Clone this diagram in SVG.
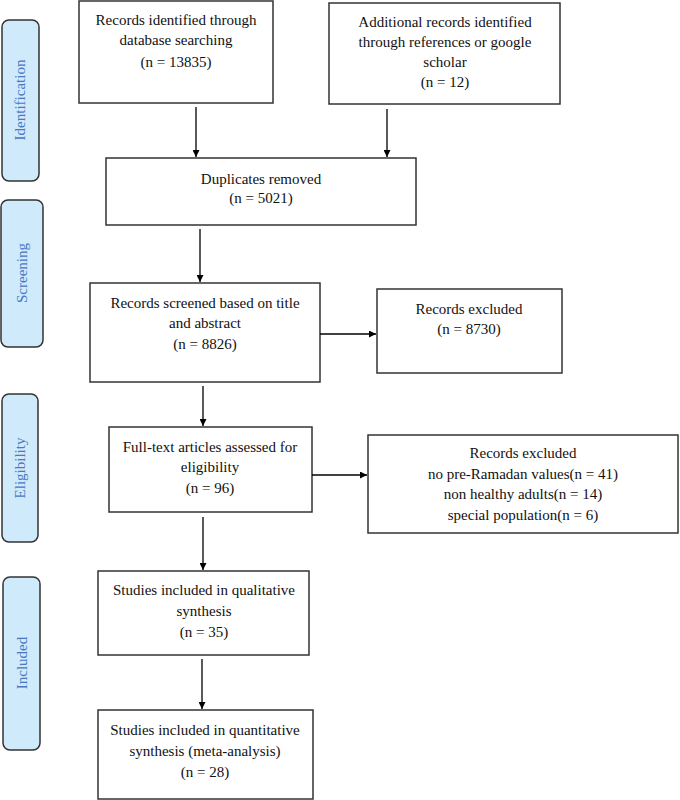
<svg xmlns="http://www.w3.org/2000/svg" width="680" height="800" viewBox="0 0 680 800">
<style>
.box{fill:#fff;stroke:#333;stroke-width:1.5}
.side{fill:#cfeafb;stroke:#333;stroke-width:1.5}
.t{font-family:"Liberation Serif","Times New Roman",serif;font-size:15px;fill:#111;text-anchor:middle}
.s{font-family:"Liberation Serif","Times New Roman",serif;font-size:15px;fill:#4a78c2;text-anchor:middle}
.c{stroke:#000;stroke-width:1.3;fill:none}
</style>
<defs>
<marker id="ah" viewBox="0 0 10 10" refX="10" refY="5" markerWidth="7" markerHeight="7" markerUnits="userSpaceOnUse" orient="auto">
<path d="M0,0 L10,5 L0,10 z" fill="#000"/>
</marker>
</defs>
<g id="side-identification"><rect class="side" x="2" y="20" width="37" height="161" rx="7"/><text class="s" transform="translate(25,100) rotate(-90)">Identification</text></g>
<g id="side-screening"><rect class="side" x="1" y="200" width="42" height="147" rx="7"/><text class="s" transform="translate(27,273) rotate(-90)">Screening</text></g>
<g id="side-eligibility"><rect class="side" x="2" y="394" width="36" height="148" rx="7"/><text class="s" transform="translate(25,468) rotate(-90)">Eligibility</text></g>
<g id="side-included"><rect class="side" x="3" y="577" width="37" height="173" rx="7"/><text class="s" transform="translate(27,663) rotate(-90)">Included</text></g>

<g id="n1"><rect class="box" x="79" y="1" width="194" height="102"/>
<text class="t" x="176" y="25">Records identified through</text>
<text class="t" x="176" y="45">database searching</text>
<text class="t" x="176" y="67">(n = 13835)</text></g>
<g id="n2"><rect class="box" x="329" y="3" width="231" height="101"/>
<text class="t" x="445" y="27">Additional records identified</text>
<text class="t" x="445" y="47">through references or google</text>
<text class="t" x="445" y="67">scholar</text>
<text class="t" x="445" y="87">(n = 12)</text></g>
<g id="n3"><rect class="box" x="106" y="158" width="310" height="67"/>
<text class="t" x="261" y="184">Duplicates removed</text>
<text class="t" x="261" y="203">(n = 5021)</text></g>
<g id="n4"><rect class="box" x="90" y="283" width="230" height="99"/>
<text class="t" x="205" y="308">Records screened based on title</text>
<text class="t" x="205" y="328">and abstract</text>
<text class="t" x="205" y="349">(n = 8826)</text></g>
<g id="n5"><rect class="box" x="377" y="289" width="185" height="84"/>
<text class="t" x="469" y="314">Records excluded</text>
<text class="t" x="469" y="334">(n = 8730)</text></g>
<g id="n6"><rect class="box" x="109" y="427" width="203" height="85"/>
<text class="t" x="210" y="452">Full-text articles assessed for</text>
<text class="t" x="210" y="472">eligibility</text>
<text class="t" x="210" y="493">(n = 96)</text></g>
<g id="n7"><rect class="box" x="368" y="435" width="310" height="98"/>
<text class="t" x="523" y="458">Records excluded</text>
<text class="t" x="523" y="479">no pre-Ramadan values(n = 41)</text>
<text class="t" x="523" y="499">non healthy adults(n = 14)</text>
<text class="t" x="523" y="520">special population(n = 6)</text></g>
<g id="n8"><rect class="box" x="98" y="571" width="211" height="84"/>
<text class="t" x="204" y="595">Studies included in qualitative</text>
<text class="t" x="204" y="616">synthesis</text>
<text class="t" x="204" y="637">(n = 35)</text></g>
<g id="n9"><rect class="box" x="98" y="710" width="215" height="89"/>
<text class="t" x="205" y="735">Studies included in quantitative</text>
<text class="t" x="205" y="756">synthesis (meta-analysis)</text>
<text class="t" x="205" y="777">(n = 28)</text></g>

<g id="connectors">
<line class="c" x1="196" y1="107" x2="196" y2="157" marker-end="url(#ah)"/>
<line class="c" x1="387" y1="109" x2="387" y2="157" marker-end="url(#ah)"/>
<line class="c" x1="200" y1="229" x2="200" y2="282" marker-end="url(#ah)"/>
<line class="c" x1="320" y1="334" x2="376" y2="334" marker-end="url(#ah)"/>
<line class="c" x1="203" y1="386" x2="203" y2="426" marker-end="url(#ah)"/>
<line class="c" x1="312" y1="475" x2="367" y2="475" marker-end="url(#ah)"/>
<line class="c" x1="203" y1="517" x2="203" y2="570" marker-end="url(#ah)"/>
<line class="c" x1="202" y1="659" x2="202" y2="709" marker-end="url(#ah)"/>
</g>
</svg>
